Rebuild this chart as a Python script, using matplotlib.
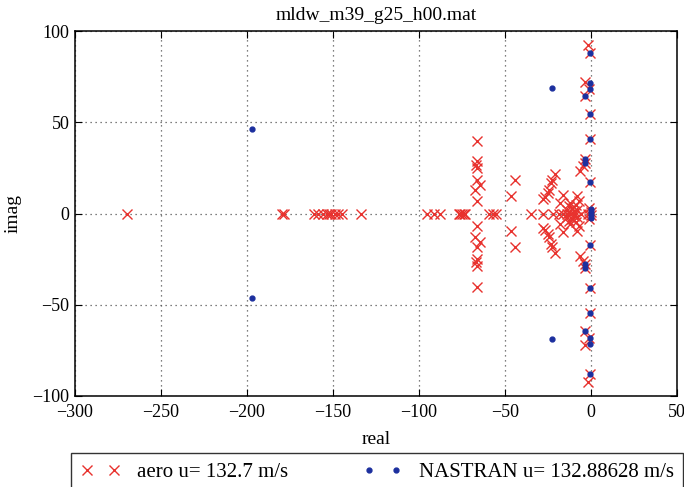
import matplotlib
matplotlib.use("Agg")
import matplotlib.pyplot as plt

# Poles from the aerodynamic model (red crosses)
aero_real = [
    # on the real axis
    -270, -179.5, -178.5, -161, -158.5, -156, -153.5, -152.5, -151, -149, -147, -145, -134,
    -95.5, -91.5, -88, -77, -76, -75, -74, -73, -59.5, -57, -55, -35, -28, -22,
    -18.5, -16, -14, -12, -10, -6, -2,
    # upper half plane
    -66.5, -66.5, -67, -66.5, -66.5, -64.5, -67.5, -66,
    -44, -46.5,
    -28, -26.5, -25, -24.5, -23.5, -22.5, -21, -18, -16,
    -14, -13, -12, -11, -10, -9, -8, -7, -8.3,
    -6.4, -4.5,
    -2, -0.5, -3.5, -1, -3.5, -0.5, -0.5, -3.5, -3.5, -0.5, -1, 0,
    # lower half plane
    -66.5, -66.5, -67, -66.5, -66.5, -64.5, -67.5, -66,
    -44, -46.5,
    -28, -26.5, -25, -24.5, -23.5, -22.5, -21, -18, -16,
    -14, -13, -12, -11, -10, -9, -8, -7, -8.3,
    -6.4, -4.5,
    -2, -0.5, -3.5, -1, -3.5, -0.5, -0.5, -3.5, -3.5, -0.5, -1, 0,
]
aero_imag = [
    0, 0, 0, 0, 0, 0, 0, 0, 0, 0, 0, 0, 0,
    0, 0, 0, 0, 0, 0, 0, 0, 0, 0, 0, 0, 0, 0,
    0, 0, 0, 0, 0, 0, 0,
    40, 28.5, 26.5, 25, 18.5, 15.5, 13, 7,
    18.5, 9.5,
    7.7, 9, 11.5, 13, 16.5, 18.5, 21.5, 6, 10.4,
    2, 4, 6, 3, 1.3, 4.5, 2, 6.8, 9.5,
    23.2, 26,
    92.5, 88, 72, 68, 64.5, 54.5, 41, 30, 27.5, 17, 3, 1,
    -40, -28.5, -26.5, -25, -18.5, -15.5, -13, -7,
    -18.5, -9.5,
    -7.7, -9, -11.5, -13, -16.5, -18.5, -21.5, -6, -10.4,
    -2, -4, -6, -3, -1.3, -4.5, -2, -6.8, -9.5,
    -23.2, -26,
    -92.5, -88, -72, -68, -64.5, -54.5, -41, -30, -27.5, -17, -3, -1,
]

# Poles from the NASTRAN model (blue dots)
nastran_real = [
    -197, -22.5, -0.5, -0.5, -0.3, -3.5, -0.5, -0.5, -3.5, -3.5, -0.5, 0, 0,
    -197, -22.5, -0.5, -0.5, -0.3, -3.5, -0.5, -0.5, -3.5, -3.5, -0.5, 0, 0,
]
nastran_imag = [
    46.5, 69, 88, 71.5, 68, 64.5, 54.5, 41, 30, 27.5, 17, 2.5, 0.8,
    -46.5, -69, -88, -71.5, -68, -64.5, -54.5, -41, -30, -27.5, -17, -2.5, -0.8,
]

title_text = "mldw_m39_g25_h00.mat"
aero_label = "aero u= 132.7 m/s"
nastran_label = "NASTRAN u= 132.88628 m/s"
x_ticks = [-300, -250, -200, -150, -100, -50, 0, 50]
y_ticks = [-100, -50, 0, 50, 100]

plt.rcParams["font.family"] = ["Liberation Serif", "DejaVu Serif"]
plt.rcParams["font.size"] = 13

fig = plt.figure(figsize=(6.84, 4.87), dpi=100)
ax = fig.add_axes([75 / 684, 1 - 396 / 487, 602 / 684, 365 / 487])

red = "#e8322e"
blue = "#1c2f9e"

h_aero, = ax.plot(aero_real, aero_imag, linestyle="none", marker="x",
                  markersize=7.5, markeredgewidth=1.0, color=red, label=aero_label)
h_nas, = ax.plot(nastran_real, nastran_imag, linestyle="none", marker="o",
                 markersize=3.5, color=blue, markeredgecolor=blue, label=nastran_label)

ax.set_xlim(-300, 50)
ax.set_ylim(-100, 100)
ax.set_xticks(x_ticks)
ax.set_yticks(y_ticks)
ax.grid(True, linestyle=(0, (1, 3)), color="#555555", linewidth=0.9)
ax.set_axisbelow(True)
ax.tick_params(direction="in", top=True, right=True, length=5, width=0.8,
               labelsize=13)
ax.tick_params(axis="x", pad=6)
ax.tick_params(axis="y", pad=4)
for s in ax.spines.values():
    s.set_linewidth(1.1)

ax.set_title(title_text, fontsize=14, pad=8)
ax.set_xlabel("real", fontsize=14, labelpad=7)
ax.set_ylabel("imag", fontsize=14, labelpad=8)

leg = fig.legend([h_aero, h_nas], [aero_label, nastran_label],
                 loc="upper left",
                 bbox_to_anchor=(71 / 684, 1 - 453 / 487),
                 ncol=2, numpoints=2, frameon=True, fancybox=False,
                 edgecolor="black", fontsize=15, borderaxespad=0,
                 handlelength=1.9, borderpad=0.45, handletextpad=0.8,
                 columnspacing=3.6)
leg.get_frame().set_linewidth(1.0)

fig.savefig("out.png", dpi=100)
